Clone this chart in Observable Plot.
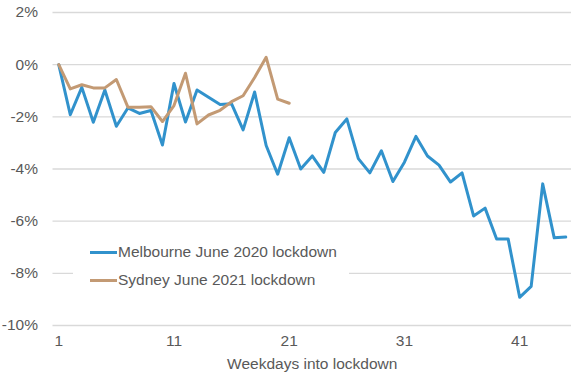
<!DOCTYPE html>
<html>
<head>
<meta charset="utf-8">
<script src="https://cdn.jsdelivr.net/npm/d3@7"></script>
<script src="https://cdn.jsdelivr.net/npm/@observablehq/plot@0.6"></script>
<style>
  html, body { margin: 0; padding: 0; background: #fff; }
  #wrap { position: relative; width: 578px; height: 377px; font-family: "Liberation Sans", Arial, sans-serif; }
  #legend { position: absolute; left: 73px; top: 236px; width: 276px; height: 60px; background: #fff;
            font-size: 15.5px; color: #595959; }
  .item { position: absolute; left: 17px; display: flex; align-items: center; white-space: nowrap; }
  .sw { width: 27px; height: 3px; margin-right: 1px; }
</style>
</head>
<body>
<div id="wrap"></div>
<script>
const seriesNames = ["Melbourne June 2020 lockdown", "Sydney June 2021 lockdown"];
const seriesColors = ["#3192cc", "#c39a74"];
const melbourne = [0, -1.92, -0.87, -2.21, -0.97, -2.36, -1.66, -1.87, -1.76, -3.08,
  -0.72, -2.2, -0.97, -1.25, -1.53, -1.5, -2.5, -1.05, -3.1, -4.2,
  -2.8, -4.0, -3.5, -4.13, -2.6, -2.08, -3.6, -4.15, -3.3, -4.48,
  -3.74, -2.75, -3.5, -3.85, -4.5, -4.15, -5.8, -5.5, -6.68, -6.68,
  -8.92, -8.5, -4.57, -6.64, -6.61];
const sydney = [0, -0.93, -0.77, -0.89, -0.89, -0.57, -1.63, -1.63, -1.61, -2.18,
  -1.57, -0.33, -2.27, -1.93, -1.75, -1.42, -1.19, -0.49, 0.28, -1.32, -1.48];
const xTicks = [1, 11, 21, 31, 41];
const yTicks = [2, 0, -2, -4, -6, -8, -10];
const xLabel = "Weekdays into lockdown";

const melData = melbourne.map((v, i) => ({day: i + 1, value: v}));
const sydData = sydney.map((v, i) => ({day: i + 1, value: v}));

const chart = Plot.plot({
  width: 578,
  height: 377,
  marginLeft: 52.5,
  marginRight: 7,
  marginTop: 12,
  marginBottom: 52,
  style: {fontFamily: '"Liberation Sans", Arial, sans-serif', fontSize: "15.5px", color: "#595959", background: "#fff"},
  x: {domain: [0.5, melbourne.length + 0.5]},
  y: {domain: [-10, 2]},
  marks: [
    Plot.gridY(yTicks, {stroke: "#d9d9d9", strokeOpacity: 1, strokeWidth: 1.3}),
    Plot.axisY(yTicks, {tickSize: 0, tickPadding: 15, tickFormat: d => `${d}%`, label: null, fontSize: 15.5, fill: "#595959"}),
    Plot.axisX(xTicks, {tickSize: 0, tickPadding: 9, label: null, fontSize: 15.5, fill: "#595959"}),
    Plot.text([xLabel], {frameAnchor: "bottom", dy: 39, lineAnchor: "middle", fontSize: 15.5, fill: "#595959"}),
    Plot.line(melData, {x: "day", y: "value", stroke: seriesColors[0], strokeWidth: 3, strokeLinejoin: "round"}),
    Plot.line(sydData, {x: "day", y: "value", stroke: seriesColors[1], strokeWidth: 3, strokeLinejoin: "round"})
  ]
});

const wrap = document.getElementById("wrap");
wrap.appendChild(chart);
const legend = document.createElement("div");
legend.id = "legend";
seriesNames.forEach((name, i) => {
  const item = document.createElement("div");
  item.className = "item";
  item.style.top = (i === 0 ? 7 : 35) + "px";
  const sw = document.createElement("span");
  sw.className = "sw";
  sw.style.background = seriesColors[i];
  const t = document.createElement("span");
  t.textContent = name;
  item.appendChild(sw);
  item.appendChild(t);
  legend.appendChild(item);
});
wrap.appendChild(legend);
</script>
</body>
</html>
